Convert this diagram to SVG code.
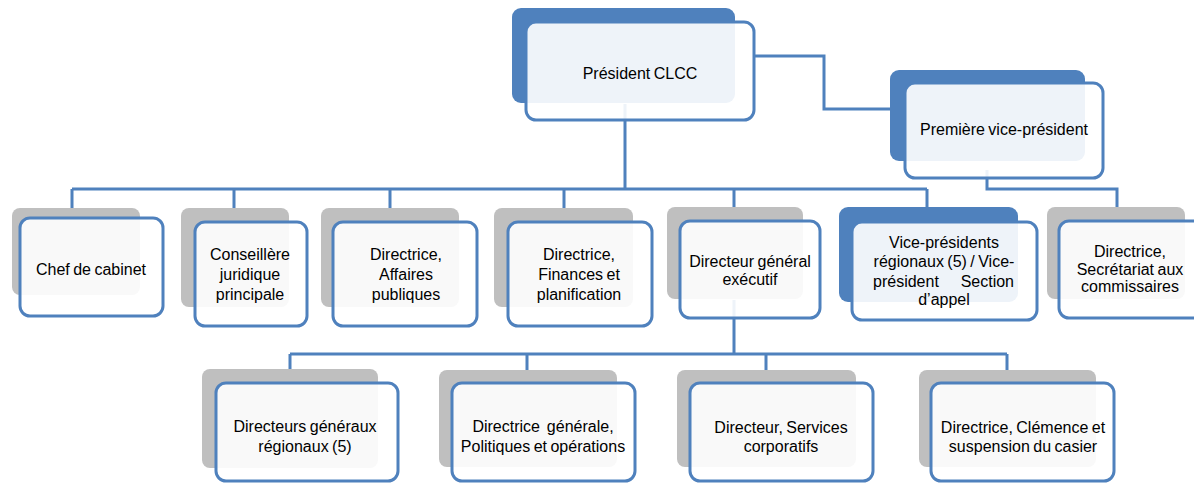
<svg xmlns="http://www.w3.org/2000/svg" width="1194" height="484" viewBox="0 0 1194 484">
<style>
.bg{fill:#ffffff}
.conn{fill:none;stroke:#4F81BD;stroke-width:3;stroke-linejoin:miter}
.back{fill:#BFBFBF}
.backb{fill:#4F81BD}
.front{fill:#ffffff;fill-opacity:0.9;stroke:#4F81BD;stroke-width:3}
text{font-family:"Liberation Sans",Arial,sans-serif;font-size:16px;fill:#000;text-anchor:middle;word-spacing:-1px}
text.s{text-anchor:start}
text.e{text-anchor:end}
text.pre{white-space:pre}
</style>
<rect class="bg" x="0" y="0" width="1194" height="484"/>
<g id="connectors">
<path class="conn" d="M625,104 V189 M72,189 H625 M72,189 V209 M234,189 V209 M390,189 V209 M564,189 V209"/>
<path class="conn" d="M625,189 H927 M734,189 V208 M927,189 V208"/>
<path class="conn" d="M987,170 V189 H1117 V208"/>
<path class="conn" d="M753,56 H824 V109 H892"/>
<path class="conn" d="M734,300 V354 M290,354 H1007 M290,354 V370 M527,354 V370 M766,354 V370 M1007,354 V370"/>
</g>
<g id="president">
<rect class="backb" x="512" y="8" width="223" height="95" rx="9"/>
<rect class="front" x="526" y="22" width="228" height="98" rx="10"/>
<text x="640" y="79">Président CLCC</text>
</g>
<g id="vp1">
<rect class="backb" x="890" y="70" width="195" height="91" rx="9"/>
<rect class="front" x="905" y="83" width="198" height="95" rx="10"/>
<text x="1004" y="135">Première vice-président</text>
</g>
<g id="chef">
<rect class="back" x="12" y="208" width="128" height="87" rx="8"/>
<rect class="front" x="20" y="218" width="143" height="98" rx="10"/>
<text x="91" y="275">Chef de cabinet</text>
</g>
<g id="conseillere">
<rect class="back" x="181" y="208" width="108" height="99" rx="8"/>
<rect class="front" x="195" y="222" width="112" height="104" rx="10"/>
<text x="250" y="260">Conseillère</text>
<text x="250" y="280">juridique</text>
<text x="250" y="300">principale</text>
</g>
<g id="affaires">
<rect class="back" x="321" y="208" width="138" height="99" rx="8"/>
<rect class="front" x="333" y="222" width="144" height="104" rx="10"/>
<text x="406" y="260">Directrice,</text>
<text x="406" y="280">Affaires</text>
<text x="406" y="300">publiques</text>
</g>
<g id="finances">
<rect class="back" x="494" y="208" width="139" height="99" rx="8"/>
<rect class="front" x="508" y="222" width="144" height="104" rx="10"/>
<text x="579" y="260">Directrice,</text>
<text x="579" y="280">Finances et</text>
<text x="579" y="300">planification</text>
</g>
<g id="dge">
<rect class="back" x="667" y="207" width="136" height="92" rx="8"/>
<rect class="front" x="680" y="221" width="140" height="97" rx="10"/>
<text x="750" y="267">Directeur général</text>
<text x="750" y="285">exécutif</text>
</g>
<g id="vpregionaux">
<rect class="backb" x="839" y="207" width="179" height="95" rx="9"/>
<rect class="front" x="852" y="222" width="185" height="98" rx="10"/>
<text x="944" y="248">Vice-présidents</text>
<text x="944" y="267">régionaux (5) / Vice-</text>
<text class="s" x="873" y="287">président</text>
<text class="e" x="1014" y="287">Section</text>
<text x="944" y="305">d’appel</text>
</g>
<g id="secretariat">
<rect class="back" x="1047" y="207" width="138" height="92" rx="8"/>
<rect class="front" x="1059" y="221" width="150" height="97" rx="10"/>
<text x="1130" y="257">Directrice,</text>
<text x="1130" y="275">Secrétariat aux</text>
<text x="1130" y="292">commissaires</text>
</g>
<g id="dgr">
<rect class="back" x="202" y="369" width="176" height="99" rx="8"/>
<rect class="front" x="216" y="383" width="182" height="98" rx="10"/>
<text x="305" y="432">Directeurs généraux</text>
<text x="305" y="452">régionaux (5)</text>
</g>
<g id="politiques">
<rect class="back" x="439" y="370" width="178" height="97" rx="8"/>
<rect class="front" x="452" y="383" width="183" height="98" rx="10"/>
<text class="pre" x="543" y="432">Directrice  générale,</text>
<text x="543" y="452">Politiques et opérations</text>
</g>
<g id="services">
<rect class="back" x="677" y="370" width="179" height="97" rx="8"/>
<rect class="front" x="690" y="383" width="183" height="98" rx="10"/>
<text x="781" y="433">Directeur, Services</text>
<text x="781" y="452">corporatifs</text>
</g>
<g id="clemence">
<rect class="back" x="919" y="370" width="177" height="97" rx="8"/>
<rect class="front" x="931" y="383" width="183" height="98" rx="10"/>
<text x="1023" y="433">Directrice, Clémence et</text>
<text x="1023" y="452">suspension du casier</text>
</g>
</svg>
